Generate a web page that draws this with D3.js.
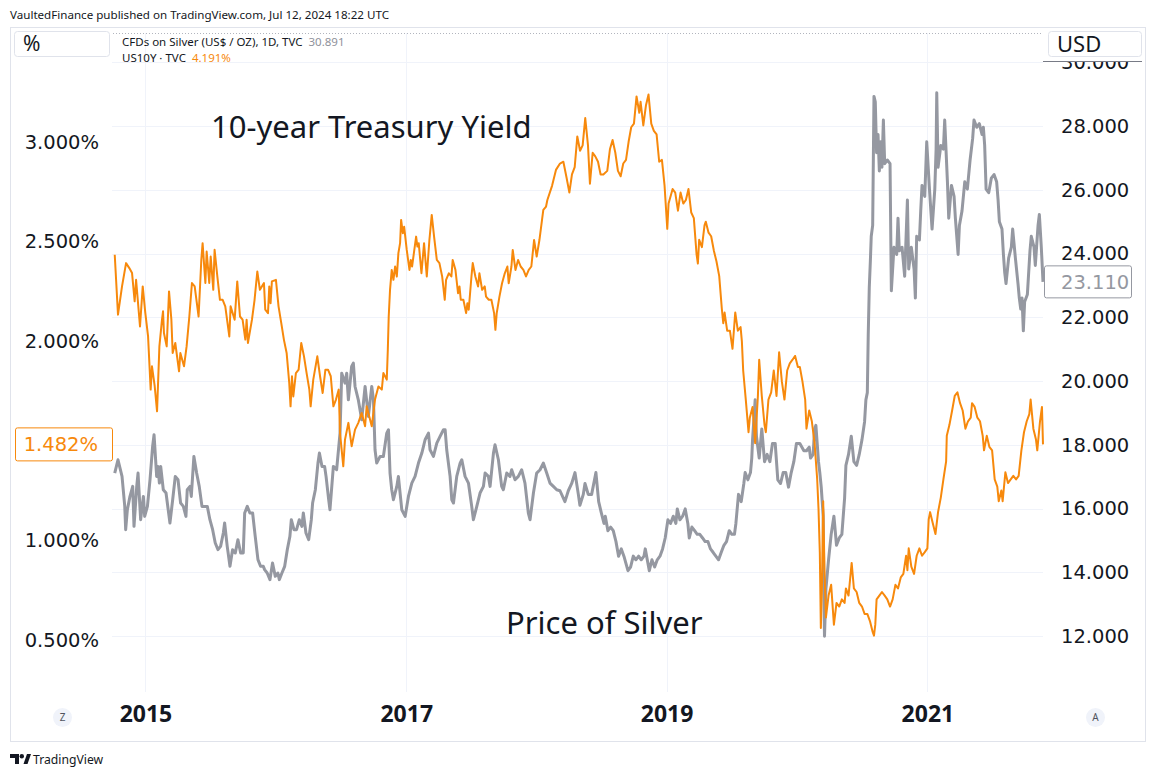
<!DOCTYPE html>
<html>
<head>
<meta charset="utf-8">
<script src="https://cdn.jsdelivr.net/npm/d3@7"></script>
<style>
  body { margin: 0; background: #fff; }
  svg { display: block; font-family: "Noto Sans", sans-serif; }
</style>
</head>
<body>
<div id="chart"></div>
<script>
// ---- data ----
var yearTicks = [2015, 2017, 2019, 2021];
var pctTicks = [0.5, 1.0, 2.0, 2.5, 3.0];   // 1.500% sits under the last-value label
var usdTicks = [12, 14, 16, 18, 20, 22, 24, 26, 28, 30];
var xStart = 2014.743, xEnd = 2021.888;
var lastYield = 1.482, lastSilver = 23.110;
var silverLegend = "CFDs on Silver (US$ / OZ), 1D, TVC", silverLegendValue = "30.891";
var yieldLegend = "US10Y \u00b7 TVC", yieldLegendValue = "4.191%";

// US10Y, [decimal year, percent]
var yieldPts = [
  [2014.764,2.434],[2014.789,2.133],[2014.820,2.275],[2014.851,2.392],[2014.876,2.367],[2014.897,2.342],[2014.917,2.200],[2014.928,2.308],
  [2014.958,2.074],[2014.979,2.275],[2014.999,2.141],[2015.020,2.024],[2015.040,1.757],[2015.050,1.874],[2015.071,1.774],[2015.089,1.648],
  [2015.107,1.974],[2015.127,2.108],[2015.135,2.150],[2015.142,2.041],[2015.163,1.974],[2015.181,2.250],[2015.199,2.108],[2015.209,1.941],
  [2015.229,1.991],[2015.258,1.849],[2015.268,1.941],[2015.296,1.874],[2015.316,1.974],[2015.337,2.124],[2015.357,2.292],[2015.378,2.275],
  [2015.408,2.124],[2015.429,2.409],[2015.439,2.492],[2015.460,2.292],[2015.470,2.450],[2015.490,2.292],[2015.501,2.425],[2015.521,2.258],
  [2015.531,2.459],[2015.552,2.325],[2015.572,2.208],[2015.593,2.208],[2015.613,2.175],[2015.644,2.024],[2015.654,2.175],[2015.685,2.108],
  [2015.705,2.300],[2015.726,2.124],[2015.746,2.108],[2015.767,2.008],[2015.777,2.108],[2015.787,1.991],[2015.818,2.108],[2015.838,2.208],
  [2015.859,2.350],[2015.879,2.258],[2015.910,2.292],[2015.920,2.158],[2015.941,2.141],[2015.951,2.275],[2015.961,2.191],[2015.971,2.300],
  [2016.002,2.308],[2016.022,2.175],[2016.043,2.091],[2016.063,2.008],[2016.084,1.941],[2016.104,1.790],[2016.114,1.673],[2016.125,1.824],
  [2016.135,1.723],[2016.155,1.840],[2016.176,1.857],[2016.196,1.991],[2016.217,1.924],[2016.237,1.840],[2016.258,1.757],[2016.268,1.673],
  [2016.288,1.807],[2016.319,1.924],[2016.340,1.824],[2016.360,1.740],[2016.381,1.857],[2016.401,1.857],[2016.422,1.824],[2016.442,1.673],
  [2016.462,1.707],[2016.483,1.757],[2016.493,1.539],[2016.518,1.372],[2016.531,1.506],[2016.557,1.590],[2016.582,1.473],[2016.608,1.556],
  [2016.633,1.590],[2016.659,1.640],[2016.685,1.573],[2016.697,1.673],[2016.736,1.573],[2016.761,1.707],[2016.787,1.773],[2016.813,1.757],
  [2016.825,1.840],[2016.851,1.807],[2016.859,1.957],[2016.866,2.124],[2016.876,2.258],[2016.889,2.358],[2016.902,2.308],[2016.915,2.375],
  [2016.928,2.325],[2016.940,2.442],[2016.953,2.492],[2016.961,2.609],[2016.974,2.542],[2016.984,2.575],[2017.004,2.458],[2017.025,2.358],
  [2017.035,2.408],[2017.045,2.375],[2017.076,2.525],[2017.086,2.475],[2017.096,2.492],[2017.117,2.341],[2017.137,2.492],[2017.158,2.325],
  [2017.178,2.508],[2017.196,2.634],[2017.214,2.525],[2017.235,2.408],[2017.255,2.392],[2017.276,2.325],[2017.296,2.208],[2017.306,2.308],
  [2017.327,2.341],[2017.347,2.325],[2017.357,2.408],[2017.378,2.358],[2017.398,2.241],[2017.409,2.275],[2017.419,2.208],[2017.439,2.208],
  [2017.460,2.141],[2017.470,2.191],[2017.480,2.158],[2017.501,2.325],[2017.511,2.392],[2017.531,2.325],[2017.552,2.275],[2017.562,2.341],
  [2017.583,2.258],[2017.603,2.275],[2017.613,2.224],[2017.634,2.208],[2017.654,2.208],[2017.675,2.141],[2017.685,2.057],[2017.695,2.141],
  [2017.716,2.224],[2017.736,2.291],[2017.757,2.341],[2017.777,2.375],[2017.787,2.291],[2017.808,2.375],[2017.818,2.458],[2017.839,2.358],
  [2017.859,2.408],[2017.879,2.375],[2017.900,2.358],[2017.920,2.325],[2017.941,2.358],[2017.961,2.375],[2017.982,2.508],[2018.002,2.425],
  [2018.023,2.508],[2018.043,2.609],[2018.053,2.659],[2018.074,2.676],[2018.084,2.709],[2018.120,2.780],[2018.150,2.860],[2018.181,2.892],
  [2018.207,2.901],[2018.232,2.819],[2018.253,2.746],[2018.273,2.837],[2018.294,2.874],[2018.314,3.028],[2018.335,2.956],[2018.355,2.983],
  [2018.375,3.120],[2018.396,2.983],[2018.411,2.791],[2018.432,2.946],[2018.452,2.928],[2018.473,2.901],[2018.493,2.837],[2018.514,2.837],
  [2018.544,2.855],[2018.565,2.965],[2018.585,3.010],[2018.606,2.946],[2018.626,2.855],[2018.647,2.828],[2018.667,2.892],[2018.688,2.910],
  [2018.708,3.001],[2018.728,3.074],[2018.749,3.092],[2018.769,3.229],[2018.790,3.147],[2018.800,3.202],[2018.821,3.083],[2018.841,3.183],
  [2018.861,3.238],[2018.882,3.092],[2018.902,3.056],[2018.923,3.038],[2018.943,2.901],[2018.964,2.910],[2018.984,2.782],[2019.005,2.564],
  [2019.015,2.691],[2019.046,2.764],[2019.066,2.746],[2019.087,2.655],[2019.107,2.746],[2019.128,2.691],[2019.148,2.709],[2019.168,2.764],
  [2019.189,2.646],[2019.209,2.618],[2019.230,2.436],[2019.240,2.390],[2019.250,2.509],[2019.271,2.472],[2019.291,2.582],[2019.301,2.600],
  [2019.322,2.545],[2019.342,2.527],[2019.363,2.454],[2019.383,2.400],[2019.404,2.327],[2019.424,2.163],[2019.435,2.090],[2019.445,2.144],
  [2019.465,2.053],[2019.486,2.053],[2019.506,1.962],[2019.527,2.144],[2019.547,2.053],[2019.568,2.071],[2019.578,1.999],[2019.588,1.853],
  [2019.608,1.707],[2019.629,1.543],[2019.639,1.616],[2019.660,1.670],[2019.680,1.488],[2019.701,1.725],[2019.711,1.907],[2019.731,1.725],
  [2019.752,1.579],[2019.762,1.543],[2019.782,1.707],[2019.803,1.743],[2019.823,1.853],[2019.844,1.725],[2019.864,1.944],[2019.885,1.798],
  [2019.905,1.707],[2019.926,1.853],[2019.946,1.889],[2019.967,1.907],[2019.987,1.926],[2020.008,1.871],[2020.023,1.871],[2020.043,1.798],
  [2020.064,1.707],[2020.074,1.561],[2020.095,1.652],[2020.115,1.598],[2020.136,1.488],[2020.156,1.306],[2020.166,1.160],[2020.176,0.941],
  [2020.184,0.560],[2020.192,0.759],[2020.202,1.197],[2020.212,0.850],[2020.223,0.613],[2020.243,0.723],[2020.263,0.777],[2020.284,0.577],
  [2020.304,0.686],[2020.325,0.668],[2020.345,0.704],[2020.366,0.686],[2020.376,0.759],[2020.396,0.723],[2020.420,0.887],[2020.437,0.759],
  [2020.458,0.741],[2020.478,0.686],[2020.499,0.668],[2020.519,0.631],[2020.540,0.631],[2020.560,0.595],[2020.581,0.540],[2020.591,0.522],
  [2020.601,0.577],[2020.611,0.704],[2020.632,0.723],[2020.652,0.741],[2020.673,0.723],[2020.693,0.704],[2020.714,0.668],[2020.734,0.704],
  [2020.755,0.777],[2020.775,0.759],[2020.796,0.814],[2020.816,0.832],[2020.837,0.923],[2020.847,0.850],[2020.857,0.960],[2020.877,0.868],
  [2020.898,0.832],[2020.918,0.923],[2020.939,0.960],[2020.959,0.923],[2020.980,0.941],[2021.000,0.960],[2021.010,1.105],[2021.021,1.142],
  [2021.041,1.087],[2021.062,1.032],[2021.082,1.142],[2021.103,1.215],[2021.123,1.306],[2021.144,1.397],[2021.149,1.525],[2021.169,1.579],
  [2021.190,1.652],[2021.210,1.725],[2021.231,1.743],[2021.251,1.689],[2021.271,1.652],[2021.292,1.561],[2021.312,1.598],[2021.333,1.616],
  [2021.343,1.689],[2021.363,1.670],[2021.384,1.616],[2021.404,1.598],[2021.425,1.525],[2021.435,1.452],[2021.456,1.525],[2021.476,1.470],
  [2021.497,1.452],[2021.517,1.306],[2021.537,1.270],[2021.548,1.197],[2021.568,1.251],[2021.578,1.197],[2021.599,1.342],[2021.619,1.288],
  [2021.640,1.306],[2021.660,1.324],[2021.681,1.306],[2021.701,1.324],[2021.722,1.452],[2021.742,1.543],[2021.763,1.598],[2021.783,1.634],
  [2021.793,1.707],[2021.814,1.561],[2021.834,1.506],[2021.844,1.452],[2021.865,1.598],[2021.880,1.670],[2021.888,1.482]
];

// Silver, [decimal year, USD]
var silverPts = [
  [2014.764,17.112],[2014.789,17.529],[2014.820,17.007],[2014.841,16.066],[2014.848,15.335],[2014.861,15.962],[2014.881,16.380],[2014.902,16.694],
  [2014.912,15.440],[2014.933,16.694],[2014.943,17.112],[2014.963,15.649],[2014.984,16.380],[2014.994,15.753],[2015.015,16.066],[2015.035,16.903],
  [2015.055,17.948],[2015.066,18.313],[2015.086,17.007],[2015.096,17.320],[2015.107,16.798],[2015.117,17.320],[2015.137,16.589],[2015.158,16.485],
  [2015.178,15.858],[2015.188,15.544],[2015.209,16.276],[2015.229,17.007],[2015.250,16.903],[2015.270,16.171],[2015.291,16.066],[2015.311,15.753],
  [2015.321,16.589],[2015.342,16.694],[2015.352,16.380],[2015.372,17.634],[2015.393,17.112],[2015.413,16.694],[2015.434,16.066],[2015.454,16.066],
  [2015.475,16.066],[2015.495,15.649],[2015.516,15.335],[2015.536,14.917],[2015.557,14.708],[2015.577,14.813],[2015.598,15.231],[2015.608,15.544],
  [2015.628,14.813],[2015.649,14.186],[2015.669,14.708],[2015.690,14.604],[2015.710,15.022],[2015.731,14.604],[2015.751,14.604],[2015.762,15.858],
  [2015.782,16.066],[2015.802,15.858],[2015.823,15.858],[2015.843,15.126],[2015.864,14.395],[2015.884,14.186],[2015.905,14.186],[2015.915,14.081],
  [2015.935,13.977],[2015.956,13.768],[2015.976,14.290],[2015.997,13.872],[2016.017,13.977],[2016.028,13.768],[2016.048,13.977],[2016.069,14.186],
  [2016.089,14.708],[2016.109,15.126],[2016.120,15.649],[2016.140,15.335],[2016.160,15.335],[2016.181,15.649],[2016.201,15.440],[2016.212,15.858],
  [2016.232,15.231],[2016.253,15.022],[2016.273,15.649],[2016.283,16.171],[2016.304,16.589],[2016.324,17.425],[2016.335,17.738],[2016.355,17.320],
  [2016.375,17.320],[2016.386,17.007],[2016.406,16.276],[2016.416,15.962],[2016.442,17.321],[2016.467,17.216],[2016.493,18.366],[2016.506,20.246],
  [2016.531,19.933],[2016.544,20.246],[2016.557,19.410],[2016.582,20.455],[2016.595,20.560],[2016.608,19.828],[2016.633,19.410],[2016.659,18.783],
  [2016.685,19.828],[2016.710,18.888],[2016.736,19.828],[2016.749,19.410],[2016.761,17.843],[2016.774,17.425],[2016.800,17.634],[2016.825,17.634],
  [2016.851,18.366],[2016.864,18.470],[2016.876,17.112],[2016.889,16.589],[2016.902,16.276],[2016.928,16.694],[2016.940,17.007],[2016.966,15.962],
  [2016.992,15.753],[2017.017,16.380],[2017.043,16.798],[2017.068,17.007],[2017.094,17.425],[2017.120,17.739],[2017.145,18.157],[2017.171,18.366],
  [2017.183,17.843],[2017.209,17.634],[2017.235,18.052],[2017.260,18.261],[2017.286,18.470],[2017.299,18.470],[2017.311,17.843],[2017.337,17.007],
  [2017.350,16.276],[2017.363,16.171],[2017.388,17.007],[2017.414,17.425],[2017.427,17.530],[2017.452,17.007],[2017.478,16.798],[2017.503,16.067],
  [2017.516,15.649],[2017.542,16.067],[2017.567,16.485],[2017.593,16.694],[2017.606,17.112],[2017.631,17.007],[2017.644,16.694],[2017.670,17.739],
  [2017.682,17.999],[2017.708,17.530],[2017.733,16.694],[2017.746,16.589],[2017.772,17.112],[2017.797,17.007],[2017.810,17.216],[2017.836,16.903],
  [2017.861,17.007],[2017.887,17.216],[2017.912,16.798],[2017.938,15.858],[2017.951,15.649],[2017.977,16.485],[2018.002,17.112],[2018.028,17.216],
  [2018.053,17.425],[2018.079,17.112],[2018.104,16.798],[2018.130,16.694],[2018.156,16.589],[2018.181,16.557],[2018.219,16.215],[2018.245,16.557],
  [2018.271,16.785],[2018.296,17.127],[2018.322,16.443],[2018.334,16.101],[2018.360,16.443],[2018.373,16.785],[2018.398,16.443],[2018.424,16.443],
  [2018.457,17.127],[2018.478,16.215],[2018.498,15.873],[2018.519,15.531],[2018.529,15.759],[2018.549,15.303],[2018.570,15.417],[2018.590,15.303],
  [2018.611,14.961],[2018.631,14.505],[2018.652,14.733],[2018.672,14.505],[2018.703,14.049],[2018.723,14.163],[2018.744,14.505],[2018.764,14.391],
  [2018.785,14.505],[2018.805,14.391],[2018.826,14.505],[2018.836,14.733],[2018.867,14.049],[2018.887,14.391],[2018.908,14.163],[2018.928,14.391],
  [2018.949,14.505],[2018.969,14.733],[2018.989,15.075],[2019.010,15.645],[2019.030,15.531],[2019.051,15.759],[2019.071,15.531],[2019.082,15.987],
  [2019.102,15.645],[2019.123,15.759],[2019.143,15.987],[2019.163,15.531],[2019.174,15.075],[2019.194,15.417],[2019.215,15.303],[2019.235,15.189],
  [2019.255,15.189],[2019.276,15.075],[2019.296,14.961],[2019.317,14.961],[2019.337,14.733],[2019.358,14.619],[2019.378,14.505],[2019.399,14.391],
  [2019.419,14.619],[2019.440,14.847],[2019.460,14.961],[2019.481,15.303],[2019.501,15.189],[2019.521,15.189],[2019.532,15.531],[2019.552,16.443],
  [2019.573,16.215],[2019.593,16.785],[2019.603,17.127],[2019.624,16.899],[2019.644,17.127],[2019.654,17.583],[2019.660,18.154],[2019.680,19.408],
  [2019.690,18.268],[2019.711,17.583],[2019.731,18.496],[2019.752,17.469],[2019.772,17.697],[2019.793,17.469],[2019.813,18.040],[2019.834,18.040],
  [2019.854,16.899],[2019.875,16.785],[2019.895,17.127],[2019.915,17.127],[2019.936,16.671],[2019.957,17.127],[2019.977,17.469],[2019.997,18.040],
  [2020.023,18.040],[2020.054,17.812],[2020.074,17.812],[2020.095,17.926],[2020.105,17.583],[2020.125,17.697],[2020.136,18.496],[2020.146,18.610],
  [2020.156,18.040],[2020.166,17.469],[2020.176,17.127],[2020.187,16.671],[2020.202,15.759],[2020.207,13.478],[2020.212,11.996],[2020.223,13.478],
  [2020.243,14.391],[2020.263,15.189],[2020.284,15.759],[2020.304,14.847],[2020.325,15.075],[2020.345,15.189],[2020.366,16.329],[2020.376,17.355],
  [2020.396,17.697],[2020.417,18.268],[2020.437,17.469],[2020.458,17.355],[2020.478,17.697],[2020.499,18.154],[2020.519,18.724],[2020.529,19.408],
  [2020.540,19.636],[2020.547,21.460],[2020.555,22.943],[2020.563,23.741],[2020.570,24.539],[2020.581,24.881],[2020.591,28.929],[2020.601,28.758],
  [2020.611,27.161],[2020.622,27.732],[2020.632,26.591],[2020.642,27.504],[2020.652,26.705],[2020.663,28.188],[2020.673,26.819],[2020.693,26.933],
  [2020.714,26.819],[2020.724,22.829],[2020.744,24.197],[2020.765,23.969],[2020.775,25.109],[2020.785,24.083],[2020.806,24.197],[2020.826,23.285],
  [2020.847,25.679],[2020.857,23.513],[2020.877,24.197],[2020.898,23.513],[2020.908,22.601],[2020.918,24.539],[2020.939,24.425],[2020.949,25.337],
  [2020.959,26.135],[2020.980,25.793],[2020.995,27.504],[2021.016,26.021],[2021.036,24.767],[2021.057,26.021],[2021.067,27.276],[2021.072,29.043],
  [2021.082,26.705],[2021.103,27.390],[2021.123,27.276],[2021.133,28.188],[2021.154,26.249],[2021.164,25.109],[2021.185,26.135],[2021.205,25.793],
  [2021.215,25.109],[2021.236,23.969],[2021.246,24.881],[2021.266,25.337],[2021.287,26.249],[2021.307,26.021],[2021.328,26.933],[2021.348,27.618],
  [2021.358,28.188],[2021.379,27.960],[2021.399,28.074],[2021.420,27.732],[2021.430,27.960],[2021.440,27.390],[2021.451,26.021],[2021.471,25.907],
  [2021.491,26.363],[2021.512,26.477],[2021.532,26.249],[2021.543,25.679],[2021.553,24.995],[2021.573,24.767],[2021.584,23.969],[2021.594,23.399],
  [2021.604,23.057],[2021.624,23.855],[2021.645,24.197],[2021.655,24.767],[2021.676,23.855],[2021.696,23.057],[2021.706,22.601],[2021.717,22.258],
  [2021.727,22.601],[2021.737,21.574],[2021.747,22.487],[2021.768,22.715],[2021.788,24.083],[2021.798,24.539],[2021.819,24.197],[2021.829,23.627],
  [2021.850,24.881],[2021.860,25.223],[2021.875,24.197],[2021.888,23.110]
];

// ---- layout ----
var w = 1156, h = 777;
var plotLeft = 112, plotRight = 1043, plotTop = 33, plotBottom = 692;
var orange = "#f7890c", gray = "#9598a1", ink = "#131722";
var axisFont = "'DejaVu Sans', sans-serif";

function decDate(v) {
  var yr = Math.floor(v);
  var a = Date.UTC(yr, 0, 1), b = Date.UTC(yr + 1, 0, 1);
  return new Date(a + (v - yr) * (b - a));
}

var x = d3.scaleUtc().domain([decDate(xStart), decDate(xEnd)]).range([plotLeft, plotRight]);
var yPct = d3.scaleLinear().domain([0.5, 3.0]).range([640, 142]);
var yUsd = d3.scaleLinear().domain([12, 28]).range([636, 126]);

var svg = d3.select("#chart").append("svg")
    .attr("width", w)
    .attr("height", h);

svg.append("rect").attr("width", w).attr("height", h).attr("fill", "#fff");

// header
svg.append("text")
    .attr("x", 10).attr("y", 18.5)
    .attr("font-size", 11.6).attr("fill", ink)
    .text("VaultedFinance published on TradingView.com, Jul 12, 2024 18:22 UTC");

// outer frame
svg.append("rect")
    .attr("x", 10.5).attr("y", 27.5)
    .attr("width", 1135).attr("height", 714)
    .attr("fill", "none").attr("stroke", "#e0e3eb");

// grid
svg.append("g").selectAll("line")
    .data(usdTicks)
    .enter().append("line")
    .attr("x1", plotLeft).attr("x2", plotRight)
    .attr("y1", function(d) { return Math.round(yUsd(d)) + 0.5; })
    .attr("y2", function(d) { return Math.round(yUsd(d)) + 0.5; })
    .attr("stroke", "#f0f3fa");

svg.append("g").selectAll("line")
    .data(yearTicks)
    .enter().append("line")
    .attr("x1", function(d) { return Math.round(x(decDate(d))) + 0.5; })
    .attr("x2", function(d) { return Math.round(x(decDate(d))) + 0.5; })
    .attr("y1", plotTop).attr("y2", plotBottom)
    .attr("stroke", "#f0f3fa");

// dotted top line
svg.append("line")
    .attr("x1", plotLeft + 1).attr("x2", plotRight)
    .attr("y1", 33.5).attr("y2", 33.5)
    .attr("stroke", "#b2b5be").attr("stroke-dasharray", "1,2");

// lines
svg.append("clipPath").attr("id", "plotClip")
  .append("rect")
    .attr("x", plotLeft).attr("y", plotTop)
    .attr("width", plotRight - plotLeft + 2).attr("height", plotBottom - plotTop);

var plot = svg.append("g").attr("clip-path", "url(#plotClip)");

var silverLine = d3.line()
    .x(function(d) { return x(decDate(d[0])); })
    .y(function(d) { return yUsd(d[1]); });
var yieldLine = d3.line()
    .x(function(d) { return x(decDate(d[0])); })
    .y(function(d) { return yPct(d[1]); });

plot.append("path")
    .datum(silverPts)
    .attr("d", silverLine)
    .attr("fill", "none")
    .attr("stroke", gray)
    .attr("stroke-width", 3)
    .attr("stroke-linejoin", "round");

plot.append("path")
    .datum(yieldPts)
    .attr("d", yieldLine)
    .attr("fill", "none")
    .attr("stroke", orange)
    .attr("stroke-width", 2)
    .attr("stroke-linejoin", "round");

// annotations
svg.append("text")
    .attr("x", 211).attr("y", 138)
    .attr("font-size", 31).attr("fill", ink)
    .text("10-year Treasury Yield");
svg.append("text")
    .attr("x", 506).attr("y", 634)
    .attr("font-size", 31).attr("fill", ink)
    .text("Price of Silver");

// left axis (%)
var leftAxis = svg.append("g")
    .attr("transform", "translate(99,0)")
    .call(d3.axisLeft(yPct).tickValues(pctTicks).tickSize(0).tickPadding(0)
      .tickFormat(function(d) { return d3.format(".3f")(d) + "%"; }));
leftAxis.select(".domain").remove();
leftAxis.selectAll("text")
    .attr("font-family", axisFont).attr("font-size", 19.5).attr("fill", ink);

// right axis (USD)
var rightAxis = svg.append("g")
    .attr("transform", "translate(1061,0)")
    .call(d3.axisRight(yUsd).tickValues(usdTicks).tickSize(0).tickPadding(0)
      .tickFormat(d3.format(".3f")));
rightAxis.select(".domain").remove();
rightAxis.selectAll("text")
    .attr("font-family", axisFont).attr("font-size", 19.5).attr("fill", ink);

// price scale top edge: the top label is cut off here
svg.append("rect")
    .attr("x", plotRight).attr("y", 28).attr("width", 102).attr("height", 33.5)
    .attr("fill", "#fff");
svg.append("line")
    .attr("x1", plotRight).attr("x2", 1142).attr("y1", 61.5).attr("y2", 61.5)
    .attr("stroke", "#787b86");

// time axis
var timeAxis = svg.append("g")
    .attr("transform", "translate(0," + plotBottom + ")")
    .call(d3.axisBottom(x).tickSize(0)
      .tickValues(yearTicks.map(function(d) { return decDate(d); }))
      .tickFormat(d3.utcFormat("%Y")));
timeAxis.select(".domain").remove();
timeAxis.selectAll("text")
    .attr("y", 30).attr("dy", 0)
    .attr("font-family", "'Noto Sans', sans-serif")
    .attr("font-weight", "bold").attr("font-size", 23).attr("fill", ink);

// scale mode boxes
svg.append("rect")
    .attr("x", 14.5).attr("y", 31.5).attr("width", 95).attr("height", 25).attr("rx", 3)
    .attr("fill", "#fff").attr("stroke", "#e0e3eb");
svg.append("text")
    .attr("x", 23).attr("y", 51).attr("font-size", 21).attr("fill", ink).text("%");

svg.append("rect")
    .attr("x", 1048.5).attr("y", 31.5).attr("width", 93).attr("height", 25).attr("rx", 3)
    .attr("fill", "#fff").attr("stroke", "#e0e3eb");
svg.append("text")
    .attr("x", 1057).attr("y", 51.5).attr("font-size", 22).attr("fill", ink).text("USD");

// legend
var lg1 = svg.append("text")
    .attr("x", 122).attr("y", 46).attr("font-size", 11.5).attr("fill", ink)
    .text(silverLegend);
lg1.append("tspan").attr("dx", 6).attr("fill", "#8f929b").text(silverLegendValue);
var lg2 = svg.append("text")
    .attr("x", 122).attr("y", 62).attr("font-size", 11.5).attr("fill", ink)
    .text(yieldLegend);
lg2.append("tspan").attr("dx", 6).attr("fill", orange).text(yieldLegendValue);

// last value labels
var sy = yUsd(lastSilver);
svg.append("rect")
    .attr("x", 1044.5).attr("y", sy - 16).attr("width", 87).attr("height", 32).attr("rx", 2)
    .attr("fill", "#fff").attr("stroke", gray);
svg.append("text")
    .attr("x", 1061).attr("y", sy).attr("dy", "0.36em")
    .attr("font-family", axisFont).attr("font-size", 19.5).attr("fill", gray)
    .text(d3.format(".3f")(lastSilver));

var py = yPct(lastYield);
svg.append("rect")
    .attr("x", 15.5).attr("y", py - 16.5).attr("width", 97).attr("height", 33).attr("rx", 2)
    .attr("fill", "#fff").attr("stroke", orange);
svg.append("text")
    .attr("x", 98).attr("y", py).attr("dy", "0.36em").attr("text-anchor", "end")
    .attr("font-family", axisFont).attr("font-size", 19.5).attr("fill", orange)
    .text(d3.format(".3f")(lastYield) + "%");

// Z / A buttons
[[62.5, "Z"], [1095.5, "A"]].forEach(function(b) {
  svg.append("circle").attr("cx", b[0]).attr("cy", 717.5).attr("r", 9.5).attr("fill", "#f0f3fa");
  svg.append("text").attr("x", b[0]).attr("y", 717.5).attr("dy", "0.35em")
      .attr("text-anchor", "middle").attr("font-size", 10).attr("fill", "#50535e").text(b[1]);
});

// footer logo
var logo = svg.append("g").attr("fill", ink);
logo.append("path").attr("d", "M10,754 H19 V764 H15 V758 H10 Z");
logo.append("circle").attr("cx", 21.8).attr("cy", 756.2).attr("r", 2.2);
logo.append("path").attr("d", "M23.5,764 L27,754 H31 L27.5,764 Z");
svg.append("text")
    .attr("x", 33).attr("y", 764).attr("font-size", 12.2).attr("fill", ink)
    .text("TradingView");
</script>
</body>
</html>
